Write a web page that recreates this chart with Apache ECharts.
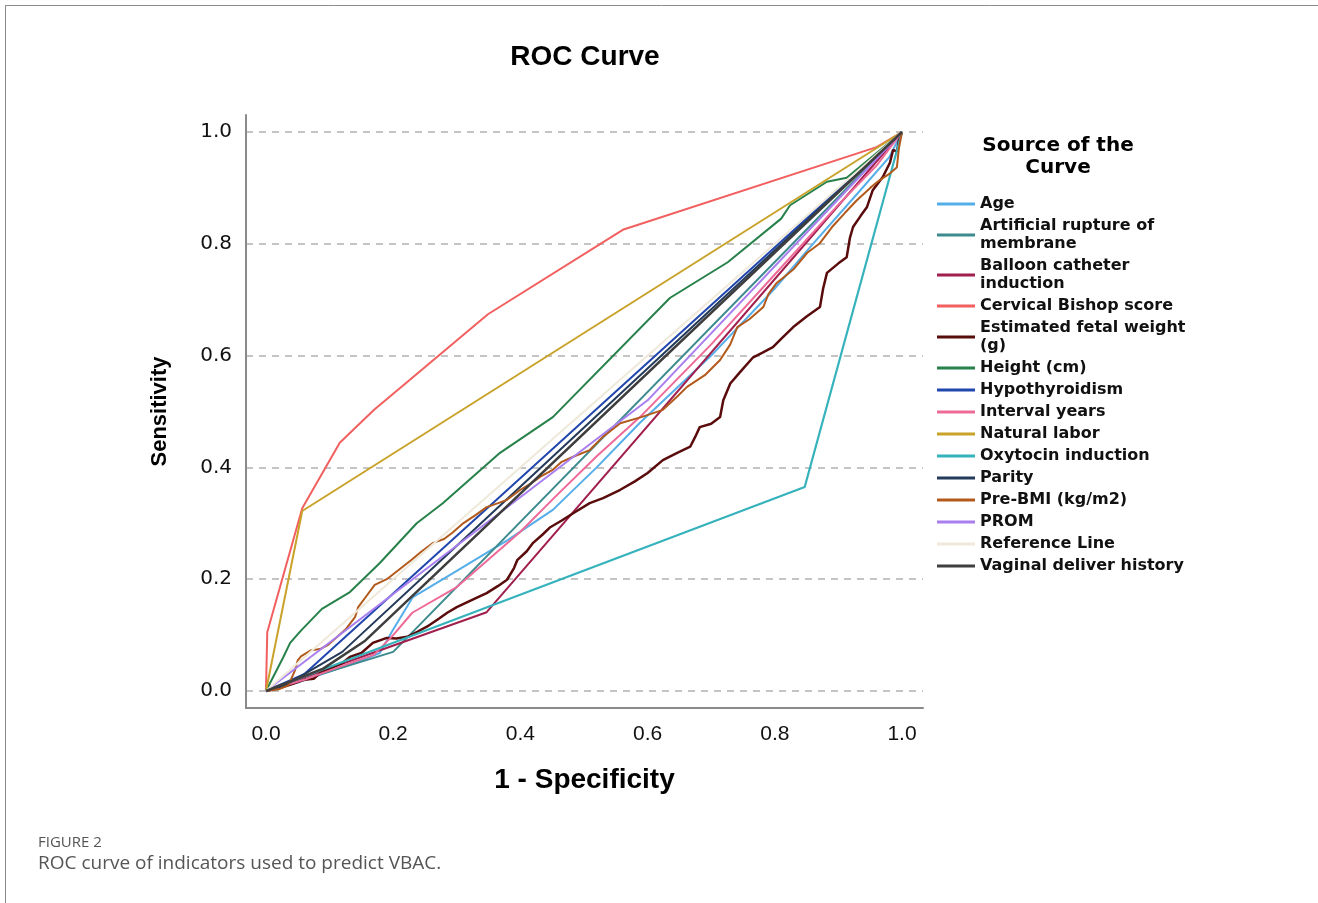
<!DOCTYPE html>
<html>
<head>
<meta charset="utf-8">
<script src="https://cdn.jsdelivr.net/npm/echarts@6/dist/echarts.min.js"></script>
<style>
html,body{margin:0;padding:0;background:#fff;}
#chart{width:1318px;height:903px;}
</style>
</head>
<body>
<div id="chart"></div>
<script>
// ---- data (x = 1 - Specificity, y = Sensitivity) ----
var seriesNames = ["Age","Artificial rupture of membrane","Balloon catheter induction","Cervical Bishop score","Estimated fetal weight (g)","Height (cm)","Hypothyroidism","Interval years","Natural labor","Oxytocin induction","Parity","Pre-BMI (kg/m2)","PROM","Reference Line","Vaginal deliver history"];
var legendLabels = ["Age","Artificial rupture of\nmembrane","Balloon catheter\ninduction","Cervical Bishop score","Estimated fetal weight\n(g)","Height (cm)","Hypothyroidism","Interval years","Natural labor","Oxytocin induction","Parity","Pre-BMI (kg/m2)","PROM","Reference Line","Vaginal deliver history"];
var xTicks = [0.0,0.2,0.4,0.6,0.8,1.0];
var yTicks = [0.0,0.2,0.4,0.6,0.8,1.0];

var age = [[0,0],[0.05,0.015],[0.1,0.035],[0.15,0.055],[0.179,0.068],[0.2,0.11],[0.231,0.168],[0.3,0.215],[0.38,0.27],[0.451,0.324],[0.52,0.4],[0.588,0.48],[0.7,0.6],[0.8,0.72],[0.86,0.8],[0.93,0.89],[0.98,0.955],[1,1]];
var arm = [[0,0],[0.2,0.07],[1,1]];
var balloon = [[0,0],[0.347,0.141],[1,1]];
var bishop = [[0,0],[0.002,0.105],[0.057,0.327],[0.116,0.444],[0.17,0.503],[0.216,0.547],[0.349,0.674],[0.561,0.825],[0.96,0.973],[1,1]];
var efw = [[0,0],[0.02,0.005],[0.04,0.012],[0.06,0.02],[0.075,0.022],[0.085,0.032],[0.1,0.04],[0.12,0.05],[0.132,0.061],[0.15,0.068],[0.168,0.086],[0.19,0.095],[0.205,0.094],[0.222,0.097],[0.238,0.106],[0.253,0.115],[0.27,0.128],[0.285,0.14],[0.3,0.15],[0.315,0.158],[0.33,0.166],[0.347,0.175],[0.365,0.188],[0.379,0.199],[0.39,0.22],[0.395,0.234],[0.41,0.25],[0.42,0.265],[0.435,0.28],[0.447,0.293],[0.465,0.305],[0.483,0.318],[0.509,0.336],[0.53,0.345],[0.557,0.36],[0.58,0.375],[0.6,0.39],[0.624,0.413],[0.645,0.425],[0.667,0.437],[0.675,0.455],[0.682,0.472],[0.7,0.478],[0.714,0.49],[0.719,0.52],[0.73,0.55],[0.745,0.57],[0.766,0.597],[0.78,0.605],[0.797,0.615],[0.81,0.63],[0.829,0.651],[0.85,0.67],[0.871,0.687],[0.876,0.72],[0.882,0.748],[0.9,0.765],[0.913,0.776],[0.918,0.81],[0.923,0.83],[0.935,0.85],[0.945,0.866],[0.954,0.896],[0.97,0.92],[0.981,0.945],[0.986,0.968],[0.992,0.965],[0.995,0.985],[1,1]];
var height = [[0,0],[0.027,0.06],[0.038,0.086],[0.055,0.108],[0.088,0.147],[0.132,0.177],[0.179,0.229],[0.237,0.3],[0.278,0.336],[0.368,0.426],[0.451,0.49],[0.635,0.703],[0.726,0.767],[0.81,0.845],[0.824,0.869],[0.882,0.911],[0.913,0.918],[1,1]];
var hypothyroidism = [[0,0],[0.06,0.03],[1,1]];
var interval = [[0,0],[0.06,0.02],[0.12,0.045],[0.17,0.065],[0.2,0.1],[0.23,0.14],[0.3,0.186],[0.4,0.285],[0.457,0.35],[0.52,0.42],[0.588,0.49],[0.7,0.62],[0.8,0.745],[0.9,0.87],[0.96,0.94],[1,1]];
var natural = [[0,0],[0.057,0.322],[1,1]];
var oxytocin = [[0,0],[0.847,0.365],[1,1]];
var parity = [[0,0],[0.03,0.01],[0.12,0.07],[0.3,0.26],[1,1]];
var preBmi = [[0,0],[0.02,0.003],[0.035,0.01],[0.045,0.035],[0.047,0.038],[0.05,0.055],[0.055,0.062],[0.071,0.073],[0.085,0.075],[0.097,0.082],[0.11,0.095],[0.125,0.11],[0.14,0.132],[0.145,0.15],[0.158,0.17],[0.171,0.19],[0.19,0.2],[0.208,0.216],[0.228,0.234],[0.245,0.25],[0.263,0.265],[0.28,0.272],[0.294,0.284],[0.31,0.3],[0.33,0.315],[0.347,0.329],[0.365,0.336],[0.379,0.342],[0.4,0.36],[0.415,0.37],[0.431,0.383],[0.45,0.395],[0.465,0.41],[0.483,0.419],[0.509,0.431],[0.53,0.455],[0.557,0.479],[0.59,0.49],[0.624,0.503],[0.645,0.525],[0.662,0.544],[0.69,0.565],[0.714,0.592],[0.73,0.62],[0.741,0.651],[0.76,0.665],[0.782,0.687],[0.79,0.71],[0.803,0.73],[0.83,0.755],[0.851,0.784],[0.87,0.8],[0.89,0.83],[0.91,0.855],[0.929,0.878],[0.95,0.9],[0.965,0.914],[0.98,0.925],[0.992,0.937],[0.995,0.97],[1,1]];
var prom = [[0,0],[0.6,0.52],[1,1]];
var reference = [[0,0],[1,1]];
var vaginal = [[0,0],[0.09,0.04],[0.156,0.09],[1,1]];

var seriesData = [age, arm, balloon, bishop, efw, height, hypothyroidism, interval, natural, oxytocin, parity, preBmi, prom, reference, vaginal];
var colors = ["#55aee9","#3d8b8e","#a11f4e","#f25f5f","#5a0c0c","#27814a","#2146ad","#ee6a98","#c9a229","#35b2bc","#233a5a","#b25a1c","#a97ff0","#efe9da","#3e3e3e"];
var widths = [2,2,2,2,2.5,2,2,2,2,2.2,2,2,2,2,2.5];

var chart = echarts.init(document.getElementById('chart'), null, {renderer:'canvas'});

var series = seriesNames.map(function(n, i){
  return {
    name: n, type: 'line', data: seriesData[i], showSymbol: false, symbol: 'none',
    lineStyle: {color: colors[i], width: widths[i]}, itemStyle: {color: colors[i]},
    animation: false, z: 2 + i
  };
});

var labelMap = {};
seriesNames.forEach(function(n, i){ labelMap[n] = legendLabels[i]; });

chart.setOption({
  animation: false,
  backgroundColor: '#ffffff',
  grid: {left: 246, right: 395, top: 115, bottom: 195, containLabel: false},
  xAxis: {
    type: 'value', min: -0.0314, max: 1.033,
    name: '1 - Specificity', nameLocation: 'middle', nameGap: 58,
    nameTextStyle: {fontFamily: 'Liberation Sans', fontWeight: 'bold', fontSize: 28, color: '#000'},
    axisLine: {show: true, onZero: false, lineStyle: {color: '#8a8a8a', width: 2}},
    axisTick: {show: false},
    splitLine: {show: false},
    axisLabel: {showMinLabel: false, showMaxLabel: false, margin: 16, fontFamily: 'Liberation Sans', fontSize: 21, color: '#111',
      formatter: function(v){ return xTicks.indexOf(Math.round(v*10)/10) >= 0 ? v.toFixed(1) : ''; }}
  },
  yAxis: {
    type: 'value', min: -0.0304, max: 1.0304,
    name: 'Sensitivity', nameLocation: 'middle', nameGap: 75,
    nameTextStyle: {fontFamily: 'Liberation Sans', fontWeight: 'bold', fontSize: 22, color: '#000', padding: [0, 0, 0, 0]},
    axisLine: {show: true, onZero: false, lineStyle: {color: '#8a8a8a', width: 2}},
    axisTick: {show: false},
    splitLine: {show: true, showMinLine: false, showMaxLine: false, lineStyle: {color: '#c4c4c4', width: 2, type: [7, 6]}},
    axisLabel: {showMinLabel: false, showMaxLabel: false, margin: 14, fontFamily: 'DejaVu Sans', fontSize: 20, color: '#111',
      formatter: function(v){ return yTicks.indexOf(Math.round(v*10)/10) >= 0 ? v.toFixed(1) : ''; }}
  },
  legend: {
    show: true, orient: 'vertical', left: 937, top: 195, padding: 0,
    data: seriesNames, icon: 'rect', itemWidth: 38, itemHeight: 3, itemGap: 4,
    formatter: function(n){ return labelMap[n]; },
    selectedMode: false,
    textStyle: {fontFamily: 'DejaVu Sans', fontSize: 16, fontWeight: 'bold', color: '#111', lineHeight: 18}
  },
  graphic: [
    {type: 'line', shape: {x1: 5, y1: 5.5, x2: 1318, y2: 5.5}, style: {stroke: '#8c8c8c', lineWidth: 1}, silent: true},
    {type: 'line', shape: {x1: 5.5, y1: 5, x2: 5.5, y2: 903}, style: {stroke: '#8c8c8c', lineWidth: 1}, silent: true},
    {type: 'text', x: 585, y: 57, style: {text: 'ROC Curve', fontFamily: 'Liberation Sans', fontWeight: 'bold', fontSize: 28, fill: '#000', textAlign: 'center', textVerticalAlign: 'middle'}},
    {type: 'text', x: 1058, y: 157, style: {text: 'Source of the\nCurve', fontFamily: 'DejaVu Sans', fontWeight: 'bold', fontSize: 20, lineHeight: 22, fill: '#000', textAlign: 'center', textVerticalAlign: 'middle'}},
    {type: 'text', x: 38, y: 843, style: {text: 'FIGURE 2', fontFamily: 'Open Sans', fontSize: 15, fill: '#555', textAlign: 'left', textVerticalAlign: 'middle'}},
    {type: 'text', x: 38, y: 864, style: {text: 'ROC curve of indicators used to predict VBAC.', fontFamily: 'Open Sans', fontSize: 19, fill: '#555', textAlign: 'left', textVerticalAlign: 'middle'}}
  ],
  series: series
});
</script>
</body>
</html>
